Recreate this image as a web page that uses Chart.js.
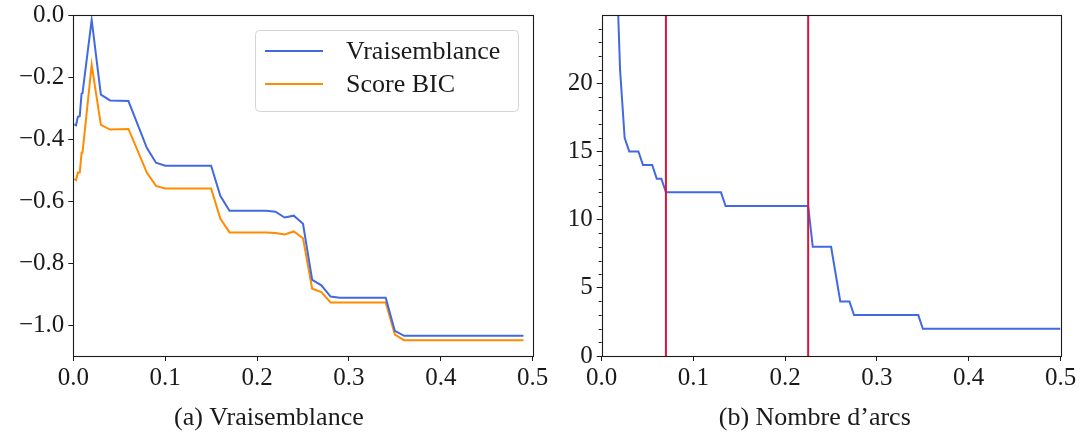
<!DOCTYPE html>
<html lang="fr">
<head>
<meta charset="utf-8">
<script src="https://cdn.jsdelivr.net/npm/chart.js@4.4.1/dist/chart.umd.min.js"></script>
<style>
  html, body { margin: 0; padding: 0; background: #fff; }
  #wrap { position: relative; width: 1085px; height: 434px; }
  #c1 { position: absolute; left: 5px; top: 0; }
  #c2 { position: absolute; left: 569px; top: 0; }
</style>
</head>
<body>
<div id="wrap">
  <canvas id="c1" width="560" height="434"></canvas>
  <canvas id="c2" width="516" height="434"></canvas>
</div>
<script>
// ——— (a) vraisemblance / score BIC en fonction du seuil ———
const seuilsA = [0.001, 0.003, 0.005, 0.007, 0.009, 0.01, 0.02, 0.03, 0.04, 0.06,
                 0.07, 0.08, 0.09, 0.10, 0.15, 0.16, 0.17, 0.21, 0.22, 0.23,
                 0.24, 0.25, 0.26, 0.27, 0.28, 0.29, 0.34, 0.35, 0.36, 0.49];
const vraisemblance = [-0.352, -0.355, -0.328, -0.326, -0.253, -0.252, -0.015, -0.256, -0.275, -0.277,
                       -0.352, -0.428, -0.476, -0.486, -0.486, -0.583, -0.631, -0.631, -0.634, -0.653,
                       -0.647, -0.673, -0.854, -0.872, -0.908, -0.912, -0.912, -1.019, -1.035, -1.035];
const scoreBIC = [-0.529, -0.532, -0.508, -0.508, -0.444, -0.444, -0.160, -0.354, -0.369, -0.367,
                  -0.437, -0.508, -0.551, -0.559, -0.559, -0.656, -0.701, -0.701, -0.703, -0.708,
                  -0.698, -0.720, -0.883, -0.894, -0.927, -0.927, -0.927, -1.031, -1.049, -1.049];

// ——— (b) nombre d'arcs ———
const seuilsB = [0.015, 0.02, 0.025, 0.03, 0.04, 0.045, 0.055, 0.06, 0.065, 0.07, 0.13,
                 0.135, 0.225, 0.23, 0.25, 0.26, 0.27, 0.275, 0.345, 0.35, 0.5];
const nbArcs = [31, 21, 16, 15, 15, 14, 14, 13, 13, 12, 12,
                11, 11, 8, 8, 4, 4, 3, 3, 2, 2];
const seuilsRetenus = [0.07, 0.225];   // lignes rouges

// ——— graduations ———
const xTicks = [0, 0.1, 0.2, 0.3, 0.4, 0.5];
const yTicksA = [0, -0.2, -0.4, -0.6, -0.8, -1.0];
const yTicksB = [0, 5, 10, 15, 20];
const yMinorB = [1, 2, 3, 4, 6, 7, 8, 9, 11, 12, 13, 14, 16, 17, 18, 19, 21, 22, 23, 24];

const FONT = "'Liberation Serif', 'Times New Roman', serif";
const INK = '#1a1a1a';
const BLUE = '#4169e1';
const ORANGE = '#ff8c00';

const fmt1 = v => (v < 0 ? '\u2212' : '') + Math.abs(v).toFixed(1);

// cadre + axvline + petites graduations
const cadre = {
  id: 'cadre',
  afterDatasetsDraw(chart, args, opts) {
    const { ctx, chartArea: a } = chart;
    ctx.save();
    (opts.vlines || []).forEach(v => {
      const x = chart.scales.x.getPixelForValue(v);
      ctx.strokeStyle = '#dc143c';
      ctx.lineWidth = 2;
      ctx.beginPath(); ctx.moveTo(x, a.top); ctx.lineTo(x, a.bottom); ctx.stroke();
    });
    ctx.strokeStyle = INK;
    ctx.lineWidth = 1;
    (opts.minor || []).forEach(v => {
      const y = Math.round(chart.scales.y.getPixelForValue(v)) + 0.5;
      ctx.beginPath(); ctx.moveTo(a.left - 3, y); ctx.lineTo(a.left, y); ctx.stroke();
    });
    ctx.lineWidth = 1.1;
    const l = Math.round(a.left) + 0.5, t = Math.round(a.top) + 0.5;
    ctx.strokeRect(l, t, Math.round(a.right) - Math.round(a.left), Math.round(a.bottom) - Math.round(a.top));
    ctx.restore();
  }
};

// légende dans un cadre arrondi, en haut à droite
const legendeBoite = {
  id: 'legendeBoite',
  afterDraw(chart, args, opts) {
    if (!opts.show) return;
    const { ctx, chartArea: a } = chart;
    const x0 = Math.round(a.right - opts.right - opts.width), y0 = Math.round(a.top + opts.top);
    ctx.save();
    ctx.fillStyle = 'rgba(255,255,255,0.8)';
    ctx.strokeStyle = '#d4d4d4';
    ctx.lineWidth = 1;
    ctx.beginPath(); ctx.roundRect(x0 + 0.5, y0 + 0.5, opts.width, opts.height, 4);
    ctx.fill(); ctx.stroke();
    ctx.font = `26px ${FONT}`;
    ctx.textBaseline = 'middle';
    chart.data.datasets.forEach((ds, i) => {
      const y = y0 + opts.firstRow + i * opts.rowGap;
      ctx.strokeStyle = ds.borderColor;
      ctx.lineWidth = ds.borderWidth;
      ctx.beginPath(); ctx.moveTo(x0 + 10, y); ctx.lineTo(x0 + 68, y); ctx.stroke();
      ctx.fillStyle = INK;
      ctx.fillText(ds.label, x0 + 91, y + 1);
    });
    ctx.restore();
  }
};

function scales(yTicks, yMin, yMax, yWidth, yFmt) {
  const tickFont = { family: FONT, size: 25, lineHeight: 0.9 };
  return {
    x: {
      type: 'linear', min: 0, max: 0.5,
      afterBuildTicks: s => { s.ticks = xTicks.map(v => ({ value: v })); },
      afterFit: s => { s.height = 38.8; },
      border: { display: false },
      grid: { drawOnChartArea: false, tickLength: 5, tickColor: INK, tickWidth: 1 },
      ticks: { font: tickFont, color: INK, padding: 6, maxRotation: 0, autoSkip: false,
               callback: v => fmt1(v) }
    },
    y: {
      type: 'linear', min: yMin, max: yMax,
      afterBuildTicks: s => { s.ticks = yTicks.map(v => ({ value: v })); },
      afterFit: s => { s.width = yWidth; },
      border: { display: false },
      grid: { drawOnChartArea: false, tickLength: 5, tickColor: INK, tickWidth: 1 },
      ticks: { font: tickFont, color: INK, padding: 4, autoSkip: false, callback: yFmt }
    }
  };
}

function caption(text) {
  return { display: true, position: 'bottom', text, color: INK,
           font: { family: FONT, size: 26, weight: 'normal' }, padding: { top: 8, bottom: 0 } };
}

const base = { responsive: false, animation: false, events: [] };
const line = (label, xs, ys, color) => ({
  label, data: xs.map((x, i) => ({ x, y: ys[i] })),
  borderColor: color, borderWidth: 2, pointRadius: 0, tension: 0, fill: false, clip: 0
});

new Chart(document.getElementById('c1'), {
  type: 'line',
  data: { datasets: [
    line('Vraisemblance', seuilsA, vraisemblance, BLUE),
    line('Score BIC', seuilsA, scoreBIC, ORANGE)
  ]},
  options: {
    ...base,
    layout: { padding: { top: 13.5, right: 32.3, left: 0, bottom: 0 } },
    scales: scales(yTicksA, -1.1, 0, 68.3, v => fmt1(v)),
    plugins: {
      legend: { display: false }, tooltip: { enabled: false },
      title: caption('(a) Vraisemblance'),
      legendeBoite: { show: true, width: 263, height: 81, right: 14.4, top: 14.6, firstRow: 21, rowGap: 33 }
    }
  },
  plugins: [cadre, legendeBoite]
});

new Chart(document.getElementById('c2'), {
  type: 'line',
  data: { datasets: [ line("Nombre d'arcs", seuilsB, nbArcs, BLUE) ] },
  options: {
    ...base,
    layout: { padding: { top: 13.5, right: 24.5, left: 0, bottom: 0 } },
    scales: scales(yTicksB, 0, 24.98, 32.7, v => String(v)),
    plugins: {
      legend: { display: false }, tooltip: { enabled: false },
      title: caption('(b) Nombre d\u2019arcs'),
      cadre: { vlines: seuilsRetenus, minor: yMinorB }
    }
  },
  plugins: [cadre, legendeBoite]
});
</script>
</body>
</html>
